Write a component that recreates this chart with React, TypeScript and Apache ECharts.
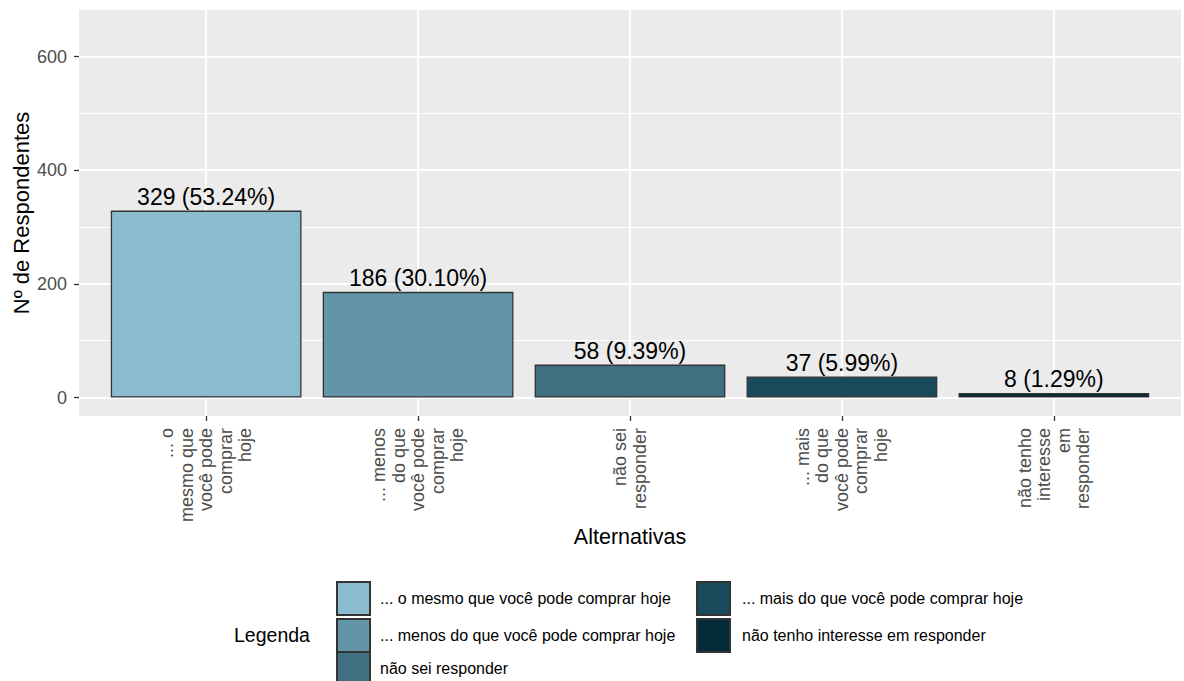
import React, { useEffect, useRef } from "react";
import * as echarts from "echarts";

// Survey answers and respondent counts
const categories = [
  "... o mesmo que você pode comprar hoje",
  "... menos do que você pode comprar hoje",
  "não sei responder",
  "... mais do que você pode comprar hoje",
  "não tenho interesse em responder",
];

// Wrapped axis labels, one per category
const tickLabels = [
  "... o\nmesmo que\nvocê pode\ncomprar\nhoje",
  "... menos\ndo que\nvocê pode\ncomprar\nhoje",
  "não sei\nresponder",
  "... mais\ndo que\nvocê pode\ncomprar\nhoje",
  "não tenho\ninteresse\nem\nresponder",
];

const counts = [329, 186, 58, 37, 8];

const fills = ["#8BBBCE", "#6395A8", "#3F6F80", "#194A5B", "#032B39"];

const yTicks = [0, 200, 400, 600];
const yMinorTicks = [100, 300, 500];
const xPositions = [0, 1, 2, 3, 4];

const FONT = "'Liberation Sans', Arial, Helvetica, sans-serif";

export default function App() {
  const ref = useRef<HTMLDivElement>(null);

  useEffect(() => {
    if (!ref.current) return;
    const chart = echarts.init(ref.current, undefined, { renderer: "svg" });
    const total = counts.reduce((a, b) => a + b, 0);

    const barSeries = categories.map((name, i) => ({
      type: "bar" as const,
      name,
      data: [[xPositions[i], counts[i]]],
      barWidth: "90%",
      barGap: "-100%",
      z: 3,
      itemStyle: { color: fills[i], borderColor: "#333333", borderWidth: 1.3 },
      emphasis: { disabled: true },
      label: {
        show: true,
        position: "top" as const,
        distance: 2,
        color: "#000000",
        fontSize: 23,
        fontFamily: FONT,
        formatter: (p: any) =>
          `${p.value[1]} (${((p.value[1] / total) * 100).toFixed(2)}%)`,
      },
    }));

    const legendBase = {
      orient: "vertical" as const,
      padding: 0,
      itemWidth: 33,
      itemHeight: 33,
      itemGap: 2,
      icon: "rect",
      selectedMode: false,
    };
    const legendText = (pad: number) => ({
      fontSize: 16,
      color: "#000000",
      fontFamily: FONT,
      padding: [0, 0, 0, pad],
    });

    chart.setOption({
      animation: false,
      backgroundColor: "#ffffff",
      textStyle: { fontFamily: FONT },
      title: {
        text: "Legenda",
        left: 234,
        top: 625,
        padding: 0,
        textStyle: { fontSize: 19.5, fontWeight: "normal", color: "#000000", fontFamily: FONT },
      },
      legend: [
        { ...legendBase, data: categories.slice(0, 2), left: 336, top: 581, textStyle: legendText(5) },
        { ...legendBase, data: categories.slice(2, 3), left: 336, top: 651, textStyle: legendText(5) },
        { ...legendBase, data: categories.slice(3), left: 696, top: 581, textStyle: legendText(7) },
      ],
      grid: {
        left: 79,
        right: 3,
        top: 10,
        bottom: 265,
        containLabel: false,
        outerBoundsMode: "none",
        show: true,
        backgroundColor: "#EBEBEB",
        borderWidth: 0,
      },
      xAxis: {
        type: "value",
        min: -0.6,
        max: 4.6,
        name: "Alternativas",
        nameLocation: "middle",
        nameGap: 110,
        nameMoveOverlap: false,
        nameTextStyle: { fontSize: 21.5, color: "#000000", fontFamily: FONT },
        axisLine: { show: false, onZero: false },
        splitLine: { show: true, lineStyle: { color: "#ffffff", width: 2 } },
        axisTick: {
          show: true,
          customValues: xPositions,
          length: 5,
          lineStyle: { color: "#333333", width: 1.3 },
        },
        axisLabel: {
          customValues: xPositions,
          rotate: 90,
          margin: 12,
          fontSize: 18,
          lineHeight: 19.5,
          color: "#4D4D4D",
          fontFamily: FONT,
          formatter: (v: number) => tickLabels[Math.round(v)] ?? "",
        },
      },
      yAxis: {
        type: "value",
        min: -32.5,
        max: 682,
        name: "Nº de Respondentes",
        nameLocation: "middle",
        nameGap: 47,
        nameMoveOverlap: false,
        nameTextStyle: { fontSize: 22, color: "#000000", fontFamily: FONT },
        axisLine: { show: false, onZero: false },
        splitLine: { show: true, lineStyle: { color: "#ffffff", width: 2 } },
        axisTick: {
          show: true,
          customValues: yTicks,
          length: 5,
          lineStyle: { color: "#333333", width: 1.3 },
        },
        axisLabel: {
          customValues: yTicks,
          margin: 12,
          fontSize: 18,
          color: "#4D4D4D",
          fontFamily: FONT,
        },
      },
      series: [
        {
          type: "line",
          name: "grid-minor",
          data: [],
          z: 1,
          silent: true,
          markLine: {
            silent: true,
            symbol: ["none", "none"],
            label: { show: false },
            lineStyle: { color: "#ffffff", width: 1, type: "solid", opacity: 1 },
            emphasis: { disabled: true },
            z: 1,
            data: yMinorTicks.map((v) => ({ yAxis: v })),
          },
        },
        ...barSeries,
      ],
    });

    return () => chart.dispose();
  }, []);

  return (
    <div
      ref={ref}
      style={{ position: "absolute", left: 0, top: 0, width: 1184, height: 681, background: "#fff" }}
    />
  );
}
